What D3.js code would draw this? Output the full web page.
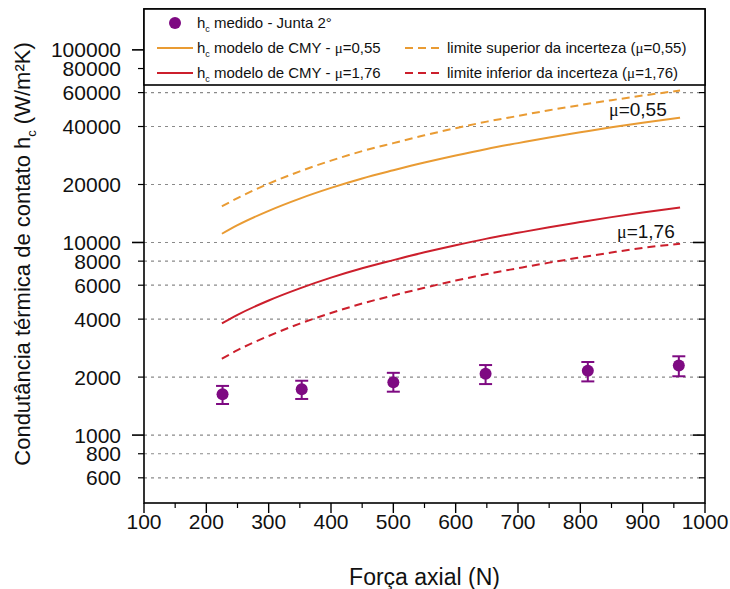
<!DOCTYPE html>
<html>
<head>
<meta charset="utf-8">
<script src="https://cdn.jsdelivr.net/npm/d3@7"></script>
<style>
  html, body { margin: 0; padding: 0; background: #fff; }
  svg { display: block; font-family: "Liberation Sans", Arial, sans-serif; }
</style>
</head>
<body>
<svg id="chart" width="730" height="589"></svg>
<script>
// Measured contact conductance (joint 2) with uncertainty bars
const forceMeasured = [226, 353, 500, 648, 812, 958];
const hcMeasured    = [1630, 1730, 1880, 2080, 2160, 2300];
const hcErrLow      = [1450, 1540, 1680, 1840, 1900, 2020];
const hcErrHigh     = [1800, 1915, 2105, 2310, 2395, 2565];

// CMY model curves
const forceModel   = [225, 250, 300, 350, 400, 450, 500, 550, 600, 650, 700, 750, 800, 850, 900, 960];
const hcModel055   = [11100, 12300, 14600, 16900, 19200, 21500, 23700, 26000, 28300, 30600, 32800, 35100, 37300, 39600, 41800, 44400];
const hcUpper055   = [15400, 17000, 20200, 23400, 26600, 29800, 32800, 36000, 39200, 42400, 45400, 48600, 51700, 54800, 57900, 61500];
const hcModel176   = [3800, 4210, 5000, 5780, 6570, 7350, 8100, 8890, 9680, 10470, 11220, 12000, 12760, 13540, 14300, 15200];
const hcLower176   = [2490, 2760, 3270, 3790, 4300, 4820, 5310, 5820, 6340, 6860, 7350, 7860, 8360, 8870, 9370, 9850];

// Axis ticks
const xTicksMajor = [100, 200, 300, 400, 500, 600, 700, 800, 900, 1000];
const xTicksMinor = [150, 250, 350, 450, 550, 650, 750, 850, 950];
const yTicks      = [600, 800, 1000, 2000, 4000, 6000, 8000, 10000, 20000, 40000, 60000, 80000, 100000];
const yTicksMajor = [1000, 10000, 100000];

const colOrange = "#E99B33";
const colRed    = "#CC1F2C";
const colPurple = "#7E0A82";

const svg = d3.select("#chart");
const L = 144, R = 705, T = 9, B = 503;

const x = d3.scaleLinear().domain([100, 1000]).range([L, R]);
const y = d3.scaleLog().domain([444, 163000]).range([B, T]);

// grid lines
svg.append("g").selectAll("line").data(yTicks).join("line")
  .attr("x1", L).attr("x2", R)
  .attr("y1", d => y(d)).attr("y2", d => y(d))
  .attr("stroke", "#8a8a8a").attr("stroke-width", 1.2)
  .attr("stroke-dasharray", "3,4");

// model curves
const line = d3.line().x(d => x(d[0])).y(d => y(d[1])).curve(d3.curveMonotoneX);
const curves = [
  { v: hcUpper055, c: colOrange, dash: "8,5" },
  { v: hcModel055, c: colOrange, dash: null },
  { v: hcModel176, c: colRed, dash: null },
  { v: hcLower176, c: colRed, dash: "8,5" }
];
curves.forEach(cv => {
  svg.append("path")
    .attr("d", line(forceModel.map((f, i) => [f, cv.v[i]])))
    .attr("fill", "none").attr("stroke", cv.c).attr("stroke-width", 2)
    .attr("stroke-dasharray", cv.dash);
});

// measured points with error bars
const pts = svg.append("g");
forceMeasured.forEach((f, i) => {
  const cx = x(f);
  pts.append("line").attr("x1", cx).attr("x2", cx)
    .attr("y1", y(hcErrLow[i])).attr("y2", y(hcErrHigh[i]))
    .attr("stroke", colPurple).attr("stroke-width", 2);
  [hcErrLow[i], hcErrHigh[i]].forEach(v => {
    pts.append("line").attr("x1", cx - 6.5).attr("x2", cx + 6.5)
      .attr("y1", y(v)).attr("y2", y(v))
      .attr("stroke", colPurple).attr("stroke-width", 2);
  });
  pts.append("circle").attr("cx", cx).attr("cy", y(hcMeasured[i])).attr("r", 6)
    .attr("fill", colPurple);
});

// curve labels
function muLabel(tx, ty, val) {
  const t = svg.append("text").attr("x", tx).attr("y", ty)
    .attr("font-size", 19).attr("fill", "#111");
  t.append("tspan").attr("font-family", "Liberation Serif, serif").attr("font-size", 18).text("\u03bc");
  t.append("tspan").text("=" + val);
}
muLabel(609, 116, "0,55");
muLabel(617, 238, "1,76");

// axes
const axisG = svg.append("g").attr("stroke", "#000");
// left axis ticks
axisG.selectAll(".yl").data(yTicks).join("line")
  .attr("x1", d => L - (yTicksMajor.includes(d) ? 12 : 6)).attr("x2", L)
  .attr("y1", d => y(d)).attr("y2", d => y(d))
  .attr("stroke-width", d => yTicksMajor.includes(d) ? 1.6 : 1.2);
// right axis ticks (inward)
axisG.selectAll(".yr").data(yTicks).join("line")
  .attr("x1", R).attr("x2", d => R - (yTicksMajor.includes(d) ? 12 : 6))
  .attr("y1", d => y(d)).attr("y2", d => y(d))
  .attr("stroke-width", d => yTicksMajor.includes(d) ? 1.6 : 1.2);
// bottom ticks
axisG.selectAll(".xb").data(xTicksMajor).join("line")
  .attr("x1", d => x(d)).attr("x2", d => x(d))
  .attr("y1", B).attr("y2", B + 10).attr("stroke-width", 1.4);
axisG.selectAll(".xm").data(xTicksMinor).join("line")
  .attr("x1", d => x(d)).attr("x2", d => x(d))
  .attr("y1", B).attr("y2", B + 5).attr("stroke-width", 1.2);

// frame
svg.append("rect").attr("x", L).attr("y", T).attr("width", R - L).attr("height", B - T)
  .attr("fill", "none").attr("stroke", "#000").attr("stroke-width", 1.6);

// tick labels
svg.append("g").selectAll("text").data(yTicks).join("text")
  .attr("x", 121).attr("y", d => y(d)).attr("dy", "0.36em")
  .attr("text-anchor", "end").attr("font-size", 21).attr("fill", "#111")
  .text(d => d3.format("d")(d));
svg.append("g").selectAll("text").data(xTicksMajor).join("text")
  .attr("x", d => x(d)).attr("y", 529)
  .attr("text-anchor", "middle").attr("font-size", 21).attr("fill", "#111")
  .text(d => d);

// axis titles
svg.append("text").attr("x", (L + R) / 2).attr("y", 585)
  .attr("text-anchor", "middle").attr("font-size", 23).attr("fill", "#111")
  .text("Força axial (N)");
const yt = svg.append("text")
  .attr("transform", "translate(30,254) rotate(-90)")
  .attr("text-anchor", "middle").attr("font-size", 22).attr("fill", "#111");
yt.append("tspan").text("Condutância térmica de contato h");
yt.append("tspan").attr("font-size", 13).attr("dy", 6).text("c");
yt.append("tspan").attr("dy", -6).text(" (W/m²K)");

// legend
const lg = svg.append("g");
lg.append("rect").attr("x", L).attr("y", T).attr("width", R - L).attr("height", 76)
  .attr("fill", "#fff").attr("stroke", "#000").attr("stroke-width", 1.6);

function legendText(tx, ty, main, hasSub, rest) {
  const t = lg.append("text").attr("x", tx).attr("y", ty).attr("font-size", 15).attr("fill", "#111");
  if (hasSub) {
    t.append("tspan").text("h");
    t.append("tspan").attr("font-size", 9).attr("dy", 4).text("c");
    t.append("tspan").attr("dy", -4).text(main);
  } else {
    t.append("tspan").text(main);
  }
  if (rest) {
    t.append("tspan").attr("font-family", "Liberation Serif, serif").text("\u03bc");
    t.append("tspan").text(rest);
  }
}

lg.append("circle").attr("cx", 175).attr("cy", 23).attr("r", 6).attr("fill", colPurple);
legendText(197, 28, " medido - Junta 2°", true, null);

lg.append("line").attr("x1", 157).attr("x2", 193).attr("y1", 48).attr("y2", 48)
  .attr("stroke", colOrange).attr("stroke-width", 2);
legendText(197, 53, " modelo de CMY - ", true, "=0,55");

lg.append("line").attr("x1", 157).attr("x2", 193).attr("y1", 73).attr("y2", 73)
  .attr("stroke", colRed).attr("stroke-width", 2);
legendText(197, 78, " modelo de CMY - ", true, "=1,76");

lg.append("line").attr("x1", 405).attr("x2", 441).attr("y1", 48).attr("y2", 48)
  .attr("stroke", colOrange).attr("stroke-width", 2).attr("stroke-dasharray", "8,5");
legendText(447, 53, "limite superior da incerteza (", false, "=0,55)");

lg.append("line").attr("x1", 405).attr("x2", 441).attr("y1", 73).attr("y2", 73)
  .attr("stroke", colRed).attr("stroke-width", 2).attr("stroke-dasharray", "8,5");
legendText(447, 78, "limite inferior da incerteza (", false, "=1,76)");
</script>
</body>
</html>
